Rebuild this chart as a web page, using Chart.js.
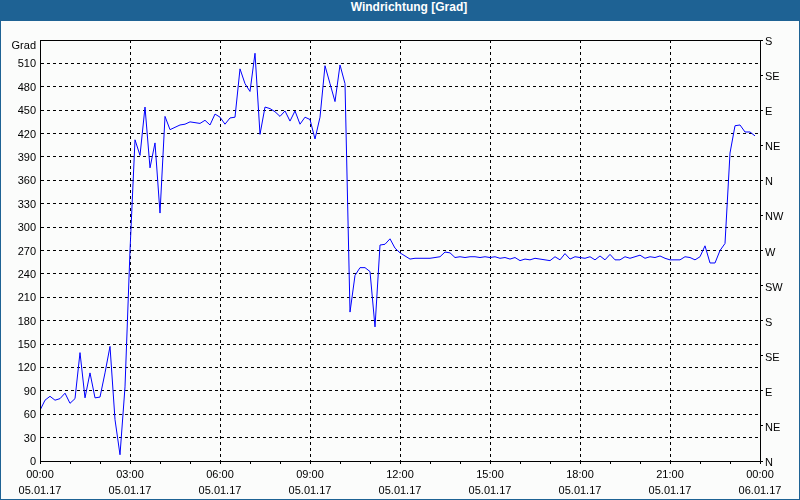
<!DOCTYPE html>
<html>
<head>
<meta charset="utf-8">
<title>Windrichtung</title>
<script src="https://cdn.jsdelivr.net/npm/chart.js@4/dist/chart.umd.min.js"></script>
<style>
  body { margin: 0; background: #fbfcfb; }
  #wrap { position: relative; width: 800px; height: 500px; overflow: hidden; }
  #chart { position: absolute; left: 0; top: 0; }
  #title {
    position: absolute; left: 0; top: 0; width: 800px; height: 21px;
    box-sizing: border-box; padding-left: 18px;
    background: #1e6294; color: #fff; text-align: center; line-height: 21px;
    font: bold 12px "Liberation Sans", Arial, sans-serif;
  }
  #frame {
    position: absolute; left: 0; top: 0; width: 800px; height: 500px;
    box-sizing: border-box; border: 1px solid #1e6294; border-top: none;
    pointer-events: none;
  }
</style>
</head>
<body>
<div id="wrap">
  <canvas id="chart" width="800" height="500"></canvas>
  <div id="title">Windrichtung [Grad]</div>
  <div id="frame"></div>
</div>
<script>
// one reading every 10 minutes, 05.01.17 00:00 .. 23:50
const sampleStepMin = 10;
const grad = [
  65, 78, 83, 78, 80, 87, 74, 80, 139, 81,
  113, 81, 82, 113, 147, 53, 8, 95, 270, 412,
  392, 454, 376, 408, 318, 442, 425, 428, 431, 432,
  435, 434, 433, 437, 431, 445, 441, 432, 440, 441,
  503, 484, 474, 523, 419, 454, 452, 448, 442, 449,
  436, 449, 432, 441, 438, 413, 441, 507, 484, 461,
  508, 484, 191, 238, 248, 248, 243, 172, 277, 278,
  285, 273, 267, 263, 259, 260, 260, 260, 260, 261,
  262, 268, 267, 261, 262, 261, 262, 262, 261, 262,
  261, 262, 260, 261, 259, 261, 257, 259, 258, 260,
  259, 258, 257, 262, 258, 266, 259, 262, 261, 260,
  262, 258, 263, 258, 265, 258, 258, 262, 260, 262,
  264, 260, 262, 261, 263, 260, 258, 258, 258, 262,
  261, 258, 262, 276, 254, 254, 270, 279, 395, 430,
  431, 422, 422, 417
];

const timeLabels = ['00:00', '03:00', '06:00', '09:00', '12:00', '15:00', '18:00', '21:00', '00:00'];
const dateLabels = ['05.01.17', '05.01.17', '05.01.17', '05.01.17', '05.01.17', '05.01.17', '05.01.17', '05.01.17', '06.01.17'];
const compassLabels = ['N', 'NE', 'E', 'SE', 'S', 'SW', 'W', 'NW', 'N', 'NE', 'E', 'SE', 'S'];

const points = grad.map((v, i) => ({ x: i * sampleStepMin, y: v }));

Chart.defaults.font.family = '"Liberation Sans", Arial, sans-serif';
Chart.defaults.font.size = 11;
Chart.defaults.color = '#000';

const frame = {
  id: 'frame',
  afterDraw(chart) {
    const { ctx, chartArea: a } = chart;
    ctx.save();
    ctx.strokeStyle = '#000';
    ctx.lineWidth = 1;
    ctx.strokeRect(Math.round(a.left) + 0.5, Math.round(a.top) + 0.5,
      Math.round(a.right - a.left), Math.round(a.bottom - a.top));
    ctx.fillStyle = '#000';
    ctx.font = '11px "Liberation Sans", Arial, sans-serif';
    ctx.textAlign = 'right';
    ctx.textBaseline = 'middle';
    ctx.fillText('Grad', a.left - 4, a.top + 6);
    ctx.restore();
  }
};

new Chart(document.getElementById('chart'), {
  type: 'line',
  data: {
    datasets: [{
      label: 'Windrichtung',
      data: points,
      borderColor: '#0000ff',
      borderWidth: 1,
      pointRadius: 0,
      tension: 0,
      fill: false
    }]
  },
  options: {
    responsive: false,
    animation: false,
    devicePixelRatio: 1,
    layout: { padding: { top: 40, left: 0, right: 0, bottom: 0 } },
    plugins: { legend: { display: false }, tooltip: { enabled: false } },
    scales: {
      x: {
        type: 'linear',
        min: 0,
        max: 1440,
        afterFit: s => { s.height = 39; },
        ticks: {
          stepSize: 60,
          autoSkip: false,
          maxRotation: 0,
          padding: 3,
          font: { lineHeight: 16 / 11 },
          callback: v => v % 180 === 0 ? [timeLabels[v / 180], dateLabels[v / 180]] : ''
        },
        grid: {
          color: c => (c.tick && c.tick.value % 180 === 0 && c.tick.value > 0 && c.tick.value < 1440) ? '#000' : 'rgba(0,0,0,0)',
          tickColor: '#000',
          tickLength: 3,
          lineWidth: 1
        },
        border: { display: true, color: '#000', dash: [3, 3] }
      },
      y: {
        position: 'left',
        min: 0,
        max: 540,
        afterFit: s => { s.width = 40; },
        ticks: {
          stepSize: 30,
          padding: 4,
          labelOffset: 1,
          callback: v => v === 540 ? '' : v
        },
        grid: {
          color: c => (c.tick && c.tick.value > 0 && c.tick.value < 540) ? '#000' : 'rgba(0,0,0,0)',
          drawTicks: false,
          lineWidth: 1
        },
        border: { display: true, color: '#000', dash: [3, 3] }
      },
      y2: {
        position: 'right',
        min: 0,
        max: 540,
        afterFit: s => { s.width = 40; },
        ticks: {
          stepSize: 45,
          padding: 2,
          labelOffset: 2,
          callback: v => compassLabels[v / 45]
        },
        grid: {
          drawOnChartArea: false,
          tickColor: '#000',
          tickLength: 3
        },
        border: { display: true, color: '#000' }
      }
    }
  },
  plugins: [frame]
});
</script>
</body>
</html>
